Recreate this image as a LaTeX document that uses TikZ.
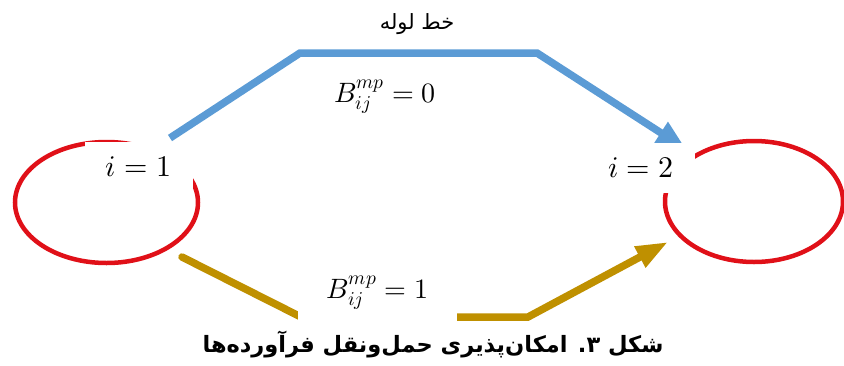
\documentclass[tikz,border=0pt]{standalone}
\usepackage{fontspec}
\usepackage{unicode-math}
\usepackage{xcolor}
\usepackage{tikz}
\usetikzlibrary{arrows.meta}
\usetikzlibrary{backgrounds}
\usetikzlibrary{shapes,shapes.geometric}
\TeXXeTstate=1
\newfontfamily\arabicfont[Script=Arabic]{DejaVu Sans}
\definecolor{pipeblue}{RGB}{91,155,213}
\definecolor{roadgold}{RGB}{191,144,0}
\definecolor{sitered}{RGB}{224,16,24}
\pgfdeclarelayer{edgelayer}
\pgfdeclarelayer{nodelayer}
\pgfsetlayers{background,edgelayer,nodelayer,main}
\tikzstyle{none}=[inner sep=0mm]
\tikzstyle{site}=[shape=ellipse,draw=sitered,line width=4.5pt,minimum width=183pt,minimum height=121pt,inner sep=0pt]
\tikzstyle{tag}=[fill=white,inner sep=0pt,minimum width=108pt,minimum height=50pt,font=\fontsize{30}{32}\selectfont]
\tikzstyle{flow}=[inner sep=0pt,font=\fontsize{28}{30}\selectfont]
\tikzstyle{pipe}=[draw=pipeblue,line width=7.5pt,-{Triangle[length=30pt,width=24pt]}]
\tikzstyle{truck}=[draw=roadgold,line width=7.5pt,line cap=round,-{Triangle[length=32pt,width=22pt]}]

\begin{document}
\begin{tikzpicture}[x=1pt,y=-1pt]
	\useasboundingbox (0,0) rectangle (844,365);
	\begin{pgfonlayer}{nodelayer}
		\node [style=site] (0) at (106.5,202.5) {};
		\node [style=site, minimum width=178pt] (1) at (754,201.5) {};
		\node [style=tag] (2) at (138.5,167) {$i=1$};
		\node [style=tag] (3) at (641,167.5) {$i=2$};
		\node [style=flow] (4) at (385,97) {$B_{ij}^{mp}=0$};
		\node [style=flow, fill=white, minimum width=159pt, minimum height=58pt] (5) at (377.5,293) {$B_{ij}^{mp}=1$};
		\node [style=none, font=\fontsize{21}{23}\selectfont] (6) at (417,24) {\arabicfont\beginR خط لوله\endR};
		\node [style=none, font=\fontsize{22.5}{24}\selectfont] (7) at (433,344) {\arabicfont\bfseries\beginR شکل ۳. امکان^^^^200cپذیری حمل^^^^200cونقل فرآورده^^^^200cها\endR};
		\coordinate (8) at (170,138);
		\coordinate (9) at (300,53);
		\coordinate (10) at (537,53);
		\coordinate (11) at (686,149);
		\coordinate (12) at (182,257);
		\coordinate (13) at (301,317);
		\coordinate (14) at (528,317);
		\coordinate (15) at (668,242);
	\end{pgfonlayer}
	\begin{pgfonlayer}{edgelayer}
		\draw [style=pipe] (8) -- (9) -- (10) -- (11);
		\draw [style=truck] (12) -- (13) -- (14) -- (15);
	\end{pgfonlayer}
\end{tikzpicture}
\end{document}
